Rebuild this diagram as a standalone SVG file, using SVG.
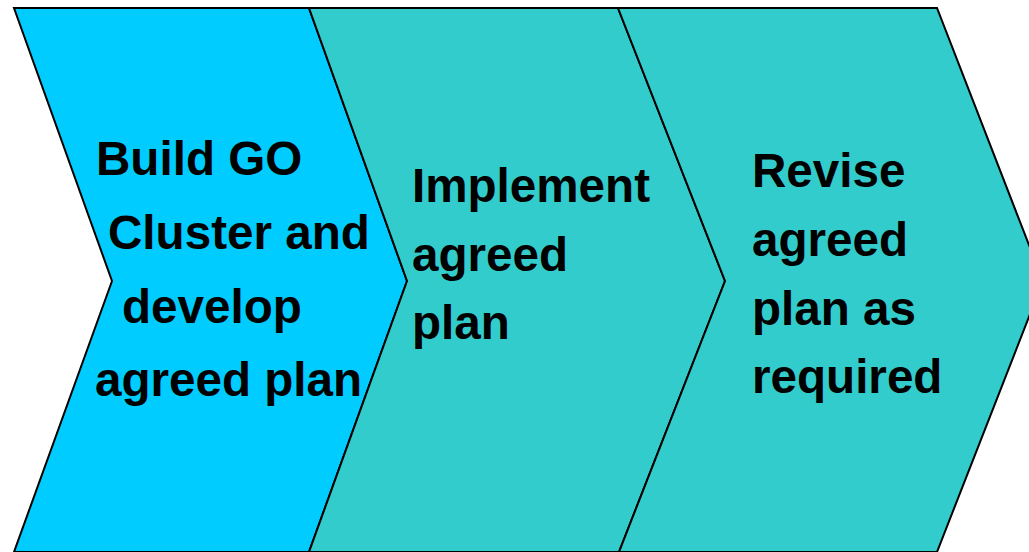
<svg xmlns="http://www.w3.org/2000/svg" width="1029" height="552" viewBox="0 0 1029 552">
<style>
.chev{stroke:#000;stroke-width:2;stroke-linejoin:miter}
.c1{fill:#00CCFF}
.c2{fill:#33CCCC}
.t{font-family:"Liberation Sans",Arial,sans-serif;font-weight:bold;font-size:47.6px;fill:#000}
</style>
<rect width="1029" height="552" fill="#fff"/>
<g id="step1">
<polygon class="chev c1" points="14,8 309,8 407,281 309,552 14,552 112,281"/>
<text class="t"><tspan x="96" y="175">Build GO</tspan><tspan x="108" y="249">Cluster and</tspan><tspan x="122" y="323">develop</tspan><tspan x="95" y="396">agreed plan</tspan></text>
</g>
<g id="step2">
<polygon class="chev c2" points="309,8 618,8 725,281 619,552 309,552 407,281"/>
<text class="t"><tspan x="412" y="202">Implement</tspan><tspan x="412" y="271">agreed</tspan><tspan x="412" y="339">plan</tspan></text>
</g>
<g id="step3">
<polygon class="chev c2" points="618,8 937,8 1043,281 937,552 619,552 725,281"/>
<text class="t"><tspan x="752" y="187">Revise</tspan><tspan x="752" y="256">agreed</tspan><tspan x="752" y="325">plan as</tspan><tspan x="752" y="393">required</tspan></text>
</g>
<g id="connectors"></g>
</svg>
